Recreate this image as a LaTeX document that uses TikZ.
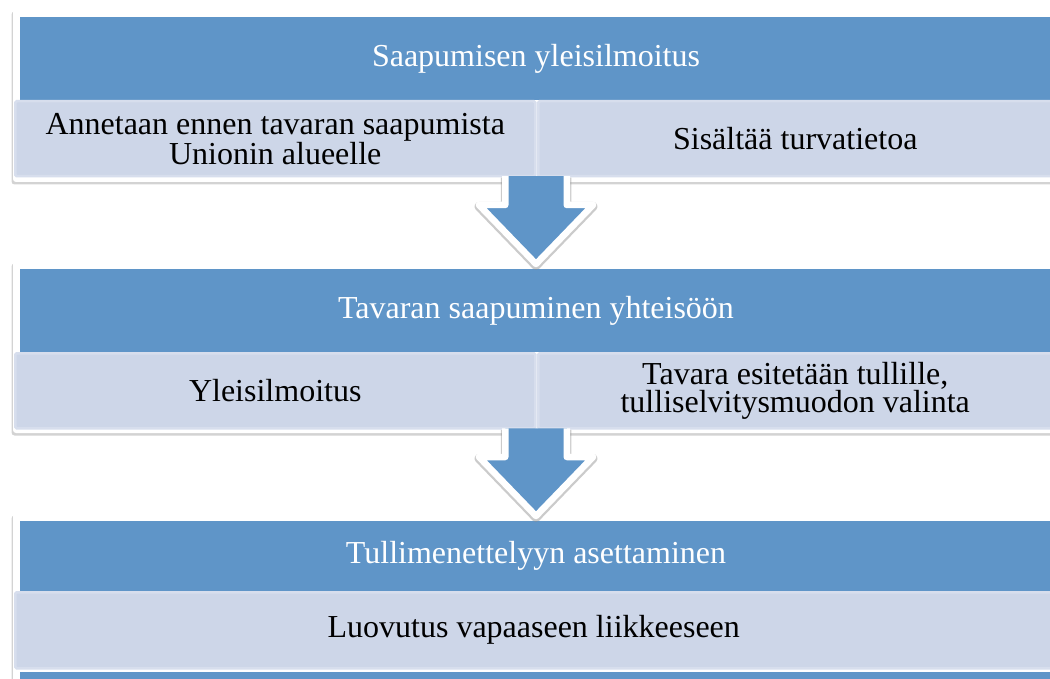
\documentclass[tikz,border=0pt]{standalone}
\usepackage{fontspec}
\setmainfont{Liberation Serif}
\usetikzlibrary{positioning, calc, shadows}

\definecolor{hdrblue}{RGB}{95,149,200}
\definecolor{subfill}{RGB}{205,214,232}
\definecolor{subedge}{RGB}{215,222,237}
\newcommand{\bigtext}{\fontsize{32pt}{28.5pt}\selectfont}
% block arrow from the bottom of one panel (#1) to a tip coordinate (#2)
\newcommand{\flowarrow}[2]{%
    \filldraw[bigarrow] ($(#2 |- #1)+(-30.75,0)$) -- ($(#2)+(-30.75,-59)$) -- ($(#2)+(-57,-59)$) -- (#2)
        -- ($(#2)+(57,-59)$) -- ($(#2)+(30.75,-59)$) -- ($(#2 |- #1)+(30.75,0)$);}

\begin{document}
\begin{tikzpicture}[x=1pt, y=-1pt]
    % Define styles
    \tikzstyle{panel} = [rectangle, rounded corners=3pt, fill=white, minimum width=1050pt, inner sep=0pt, outer sep=0pt, drop shadow={shadow xshift=-1.5pt, shadow yshift=-2.5pt, opacity=0.35}]
    \tikzstyle{header} = [rectangle, fill=hdrblue, text=white, minimum width=1032pt, inner sep=0pt, outer sep=0pt, font=\bigtext]
    \tikzstyle{subbox} = [rectangle, rounded corners=1.5pt, fill=subfill, draw=subedge, line width=2.5pt, inner sep=0pt, outer sep=0pt, align=center, font=\bigtext]
    \tikzstyle{bigarrow} = [fill=hdrblue, draw=white, line width=6.5pt, line join=round,
        preaction={draw=black!45, opacity=0.45, line width=9pt, line join=round, transform canvas={yshift=-1.5pt}}]

    \useasboundingbox (0,0) rectangle (1050,679);

    % Panel 1
    \node (pA) [panel, minimum height=173pt, anchor=north west] at (13,9) {};
    \node (hA) [header, minimum height=83pt, anchor=north west] at (20,17) {Saapumisen yleisilmoitus};
    \node (sA1) [subbox, minimum width=520pt, minimum height=75pt, anchor=north west] at (15.25,101.25) {Annetaan ennen tavaran saapumista\\Unionin alueelle};
    \node (sA2) [subbox, minimum width=514pt, minimum height=75pt, right=3pt of sA1] {Sisältää turvatietoa};

    % Panel 2
    \node (pB) [panel, minimum height=172pt, anchor=north west] at (13,261) {};
    \node (hB) [header, minimum height=83pt, anchor=north west] at (20,269) {Tavaran saapuminen yhteisöön};
    \node (sB1) [subbox, minimum width=520pt, minimum height=75pt, anchor=north west] at (15.25,353.25) {Yleisilmoitus};
    \node (sB2) [subbox, minimum width=514pt, minimum height=75pt, right=3pt of sB1] {Tavara esitetään tullille,\\tulliselvitysmuodon valinta};

    % Panel 3
    \node (pC) [panel, minimum height=200pt, anchor=north west] at (13,513) {};
    \node (hC) [header, minimum height=70pt, anchor=north west] at (20,521) {Tullimenettelyyn asettaminen};
    \node (sC) [subbox, minimum width=1037pt, minimum height=76pt, anchor=north west] at (15.25,592.25) {Luovutus vapaaseen liikkeeseen};
    \node (hD) [header, minimum height=12pt, anchor=north west] at (20,672) {};

    % Arrows
    \coordinate (tipA) at ($(hB.north)+(0,-5)$);
    \coordinate (tipB) at ($(hC.north)+(0,-5)$);
    \flowarrow{sA1.south east}{tipA}
    \flowarrow{sB1.south east}{tipB}
\end{tikzpicture}
\end{document}
